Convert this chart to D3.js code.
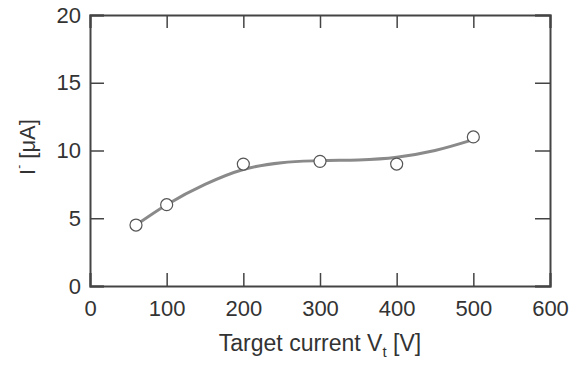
<!DOCTYPE html>
<html>
<head>
<meta charset="utf-8">
<script src="https://cdn.jsdelivr.net/npm/d3@7"></script>
<style>
  body { margin: 0; background: #fff; }
  text { font-family: "Liberation Sans", Arial, sans-serif; fill: #333; }
</style>
</head>
<body>
<svg id="chart" width="578" height="368"></svg>
<script>
// measured points
var voltage = [60, 100, 200, 300, 400, 500];
var current = [4.5, 6.0, 9.0, 9.2, 9.0, 11.0];

// fitted curve
var fitX = [60, 100, 150, 200, 250, 300, 350, 400, 450, 500];
var fitY = [4.5, 6.0, 7.5, 8.6, 9.1, 9.25, 9.3, 9.5, 10.0, 10.8];

var xTicks = [0, 100, 200, 300, 400, 500, 600];
var yTicks = [0, 5, 10, 15, 20];

var svg = d3.select("#chart");
var mLeft = 90, mRight = 550, mTop = 15, mBottom = 286;

var x = d3.scaleLinear().domain([0, 600]).range([mLeft, mRight]);
var y = d3.scaleLinear().domain([0, 20]).range([mBottom, mTop]);

///////////////////////////////////////////////////////////////////////////////
// Frame and ticks (ticks point inward)

var axisColor = "#444";

svg.append("g")
  .attr("transform", "translate(0," + mBottom + ")")
  .call(d3.axisBottom(x).tickValues(xTicks).tickSize(-13).tickPadding(14).tickFormat(d3.format("d")));
svg.append("g")
  .attr("transform", "translate(0," + mTop + ")")
  .call(d3.axisTop(x).tickValues(xTicks).tickSize(-13).tickFormat(""));
svg.append("g")
  .attr("transform", "translate(" + mLeft + ",0)")
  .call(d3.axisLeft(y).tickValues(yTicks).tickSize(-14).tickPadding(9));
svg.append("g")
  .attr("transform", "translate(" + mRight + ",0)")
  .call(d3.axisRight(y).tickValues(yTicks).tickSize(-15).tickFormat(""));

svg.selectAll(".domain").attr("stroke", axisColor).attr("stroke-width", 2);
svg.selectAll(".tick line").attr("stroke", axisColor).attr("stroke-width", 1.5);
svg.selectAll(".tick text")
  .style("font-family", "Liberation Sans, Arial, sans-serif")
  .style("font-size", "22px")
  .attr("fill", "#333");

///////////////////////////////////////////////////////////////////////////////
// Fit curve

var line = d3.line()
  .x(function (d, i) { return x(fitX[i]); })
  .y(function (d) { return y(d); })
  .curve(d3.curveMonotoneX);

svg.append("path")
  .datum(fitY)
  .attr("d", line)
  .attr("fill", "none")
  .attr("stroke", "#8a8a8a")
  .attr("stroke-width", 3);

///////////////////////////////////////////////////////////////////////////////
// Data markers

svg.selectAll("circle.pt")
  .data(voltage)
  .enter().append("circle")
  .attr("class", "pt")
  .attr("cx", function (d) { return x(d); })
  .attr("cy", function (d, i) { return y(current[i]); })
  .attr("r", 6)
  .attr("fill", "#fff")
  .attr("stroke", "#555")
  .attr("stroke-width", 1.2);

///////////////////////////////////////////////////////////////////////////////
// Axis titles

var xt = svg.append("text")
  .attr("x", (mLeft + mRight) / 2)
  .attr("y", 351)
  .attr("text-anchor", "middle")
  .style("font-size", "23px");
xt.append("tspan").text("Target current V");
xt.append("tspan").attr("dy", 6).style("font-size", "15px").text("t");
xt.append("tspan").attr("dy", -6).text(" [V]");

var yt = svg.append("text")
  .attr("transform", "translate(35,147) rotate(-90)")
  .attr("text-anchor", "middle")
  .style("font-size", "22px");
yt.append("tspan").text("I");
yt.append("tspan").attr("dy", -12).style("font-size", "12px").text("-");
yt.append("tspan").attr("dy", 12).text(" [\u03bcA]");
</script>
</body>
</html>
